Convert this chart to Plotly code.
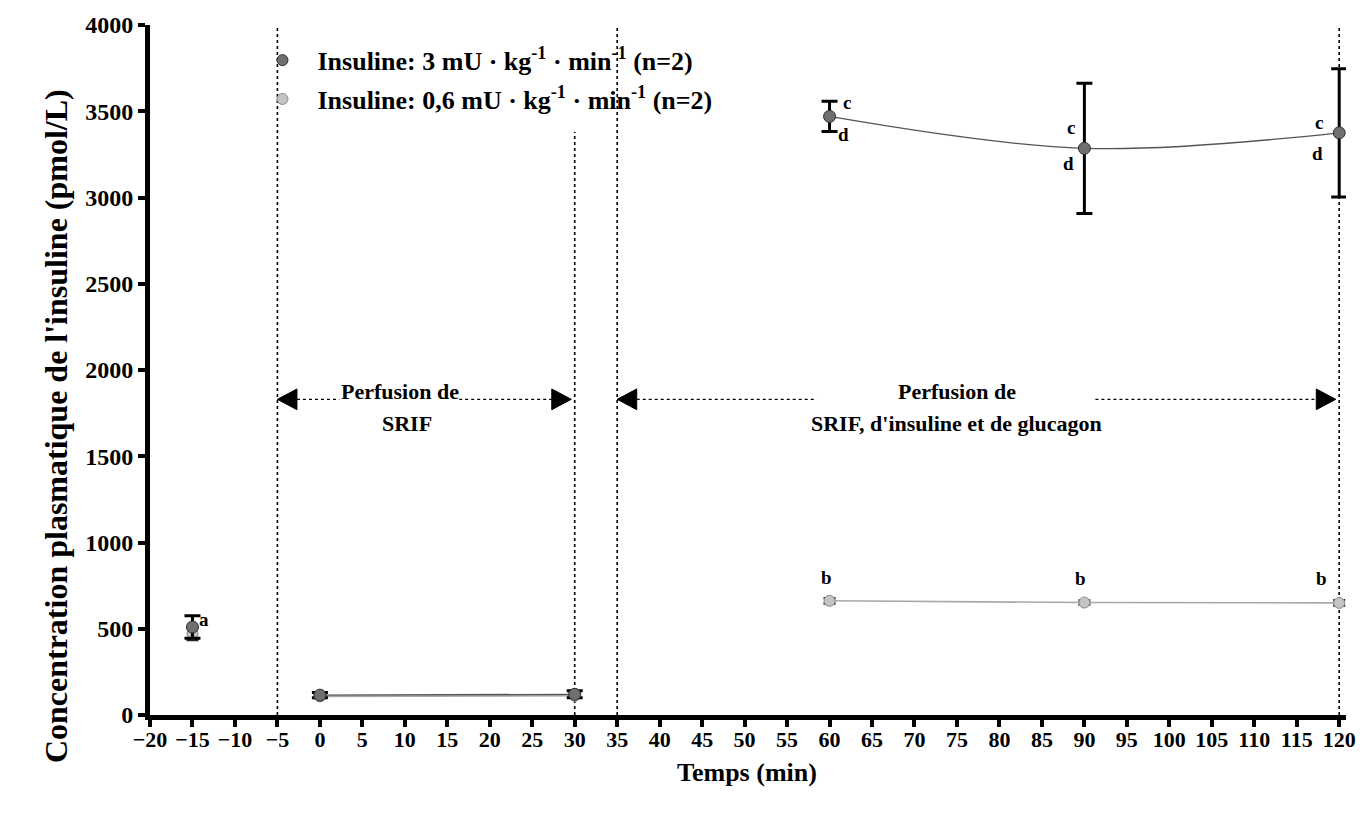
import plotly.graph_objects as go

# Sampling times (min) and plasma insulin (pmol/L), mean ± SEM
time_min = [-15, 0, 30, 60, 90, 120]
insulin_high = [510, 115, 120, 3470, 3285, 3375]
insulin_high_err = [65, 15, 20, 88, 378, 372]
insulin_low = [470, 108, 112, 662, 652, 650]
insulin_low_err = [35, 10, 10, 15, 12, 15]

name_high = "Insuline: 3 mU · kg<sup>-1</sup> · min<sup>-1</sup> (n=2)"
name_low = "Insuline: 0,6 mU · kg<sup>-1</sup> · min<sup>-1</sup> (n=2)"

# Statistical letters: (time, concentration, letter)
letters = [
    (-13.6, 555, "a"),
    (62.1, 3550, "c"), (61.7, 3365, "d"),
    (88.4, 3405, "c"), (88.1, 3200, "d"),
    (117.6, 3434, "c"), (117.4, 3255, "d"),
    (59.6, 800, "b"), (89.6, 790, "b"), (117.9, 790, "b"),
]

# Infusion periods: (start, end, first line, second line)
periods = [
    (-5, 30, "Perfusion de", "SRIF"),
    (35, 120, "Perfusion de", "SRIF, d'insuline et de glucagon"),
]

SERIF = "Liberation Serif"
DARK = "#6f6f6f"
LIGHT = "#c4c4c4"

fig = go.Figure()

# connecting lines: SRIF period (linear) and clamp period (smoothed)
segments = [(1, 3, "linear"), (3, 6, "spline")]
for lo, hi, shape in segments:
    fig.add_trace(go.Scatter(
        x=time_min[lo:hi], y=insulin_low[lo:hi], mode="lines",
        line=dict(color="#a8a8a8", width=1.6, shape=shape),
        showlegend=False, hoverinfo="skip"))
    fig.add_trace(go.Scatter(
        x=time_min[lo:hi], y=insulin_high[lo:hi], mode="lines",
        line=dict(color="#555555", width=1.3, shape=shape),
        showlegend=False, hoverinfo="skip"))

fig.add_trace(go.Scatter(
    x=time_min, y=insulin_low, mode="markers",
    marker=dict(size=11, color=LIGHT, line=dict(color="#8a8a8a", width=1)),
    error_y=dict(type="data", array=insulin_low_err, color="#222", thickness=2.5, width=6),
    showlegend=False))
fig.add_trace(go.Scatter(
    x=time_min, y=insulin_high, mode="markers",
    marker=dict(size=12, color=DARK, line=dict(color="#2e2e2e", width=1)),
    error_y=dict(type="data", array=insulin_high_err, color="#000", thickness=3, width=8),
    showlegend=False))

# legend entries
fig.add_trace(go.Scatter(
    x=[None], y=[None], mode="markers", name=name_high, legendgroup="h",
    marker=dict(size=11, color=DARK, line=dict(color="#2e2e2e", width=1))))
fig.add_trace(go.Scatter(
    x=[None], y=[None], mode="markers", name=name_low, legendgroup="l",
    marker=dict(size=11, color=LIGHT, line=dict(color="#8a8a8a", width=1))))

shapes = []
# dotted period boundaries
for xv in [-5, 30, 35, 120]:
    top = 3380 if xv == 30 else 4000
    shapes.append(dict(type="line", xref="x", yref="y", x0=xv, x1=xv, y0=0, y1=top,
                       line=dict(color="black", width=1.6, dash="dot"), layer="below"))

ARROW_Y = 1830
HEAD_W = 2.3
HEAD_H = 60
gaps = [(2.3, 16.4), (58.5, 91.3)]
for (start, end, l1, l2), (g0, g1) in zip(periods, gaps):
    left_tip = start
    right_tip = end - 0.4
    for a, b in [(left_tip + HEAD_W, g0), (g1, right_tip - HEAD_W)]:
        shapes.append(dict(type="line", xref="x", yref="y", x0=a, x1=b,
                           y0=ARROW_Y, y1=ARROW_Y,
                           line=dict(color="black", width=1.4, dash="dot")))
    shapes.append(dict(type="path", xref="x", yref="y",
                       path=f"M {left_tip},{ARROW_Y} L {left_tip + HEAD_W},{ARROW_Y + HEAD_H} "
                            f"L {left_tip + HEAD_W},{ARROW_Y - HEAD_H} Z",
                       fillcolor="black", line=dict(color="black", width=1)))
    shapes.append(dict(type="path", xref="x", yref="y",
                       path=f"M {right_tip},{ARROW_Y} L {right_tip - HEAD_W},{ARROW_Y + HEAD_H} "
                            f"L {right_tip - HEAD_W},{ARROW_Y - HEAD_H} Z",
                       fillcolor="black", line=dict(color="black", width=1)))

annotations = []
label_font = dict(family=SERIF, size=22, color="black", weight="bold")
for (start, end, l1, l2), cx in zip(periods, [9.4, 75.0]):
    annotations.append(dict(x=cx, y=1876, xref="x", yref="y", text=l1, showarrow=False,
                            font=label_font))
    annotations.append(dict(x=cx + 0.8 if l2 == "SRIF" else cx, y=1691, xref="x", yref="y",
                            text=l2, showarrow=False, font=label_font))

for xv, yv, txt in letters:
    annotations.append(dict(x=xv, y=yv, xref="x", yref="y", text=txt, showarrow=False,
                            font=dict(family=SERIF, size=19, color="black", weight="bold")))

annotations.append(dict(x=0.499, y=-0.084, xref="paper", yref="paper", text="Temps (min)",
                        showarrow=False, yanchor="middle",
                        font=dict(family=SERIF, size=26, color="black", weight="bold")))
annotations.append(dict(x=-0.0957, y=0.418, xref="paper", yref="paper",
                        text="Concentration plasmatique de l'insuline (pmol/L)",
                        textangle=-90, showarrow=False,
                        font=dict(family=SERIF, size=32, color="black", weight="bold")))

fig.update_layout(
    width=1368, height=817,
    margin=dict(l=150, r=16, t=22, b=102),
    paper_bgcolor="white", plot_bgcolor="white",
    shapes=shapes, annotations=annotations,
    legend=dict(x=0.0815, y=0.983, xanchor="left", yanchor="top",
                font=dict(family=SERIF, size=26, color="black", weight="bold"),
                bgcolor="rgba(0,0,0,0)", tracegroupgap=2, itemwidth=60),
    xaxis=dict(range=[-20, 120.8], tickmode="linear", tick0=-20, dtick=5,
               showgrid=False, zeroline=False, showline=True, linecolor="black",
               linewidth=5, ticks="outside", ticklen=7, tickwidth=4, tickcolor="black",
               ticklabelstandoff=-6,
               tickfont=dict(family=SERIF, size=22, color="black", weight="bold")),
    yaxis=dict(range=[0, 4000], tickmode="linear", tick0=0, dtick=500,
               showgrid=False, zeroline=False, showline=True, linecolor="black",
               linewidth=5, ticks="outside", ticklen=7, tickwidth=4, tickcolor="black",
               tickfont=dict(family=SERIF, size=24, color="black", weight="bold")),
)

fig.write_html("out.html")
